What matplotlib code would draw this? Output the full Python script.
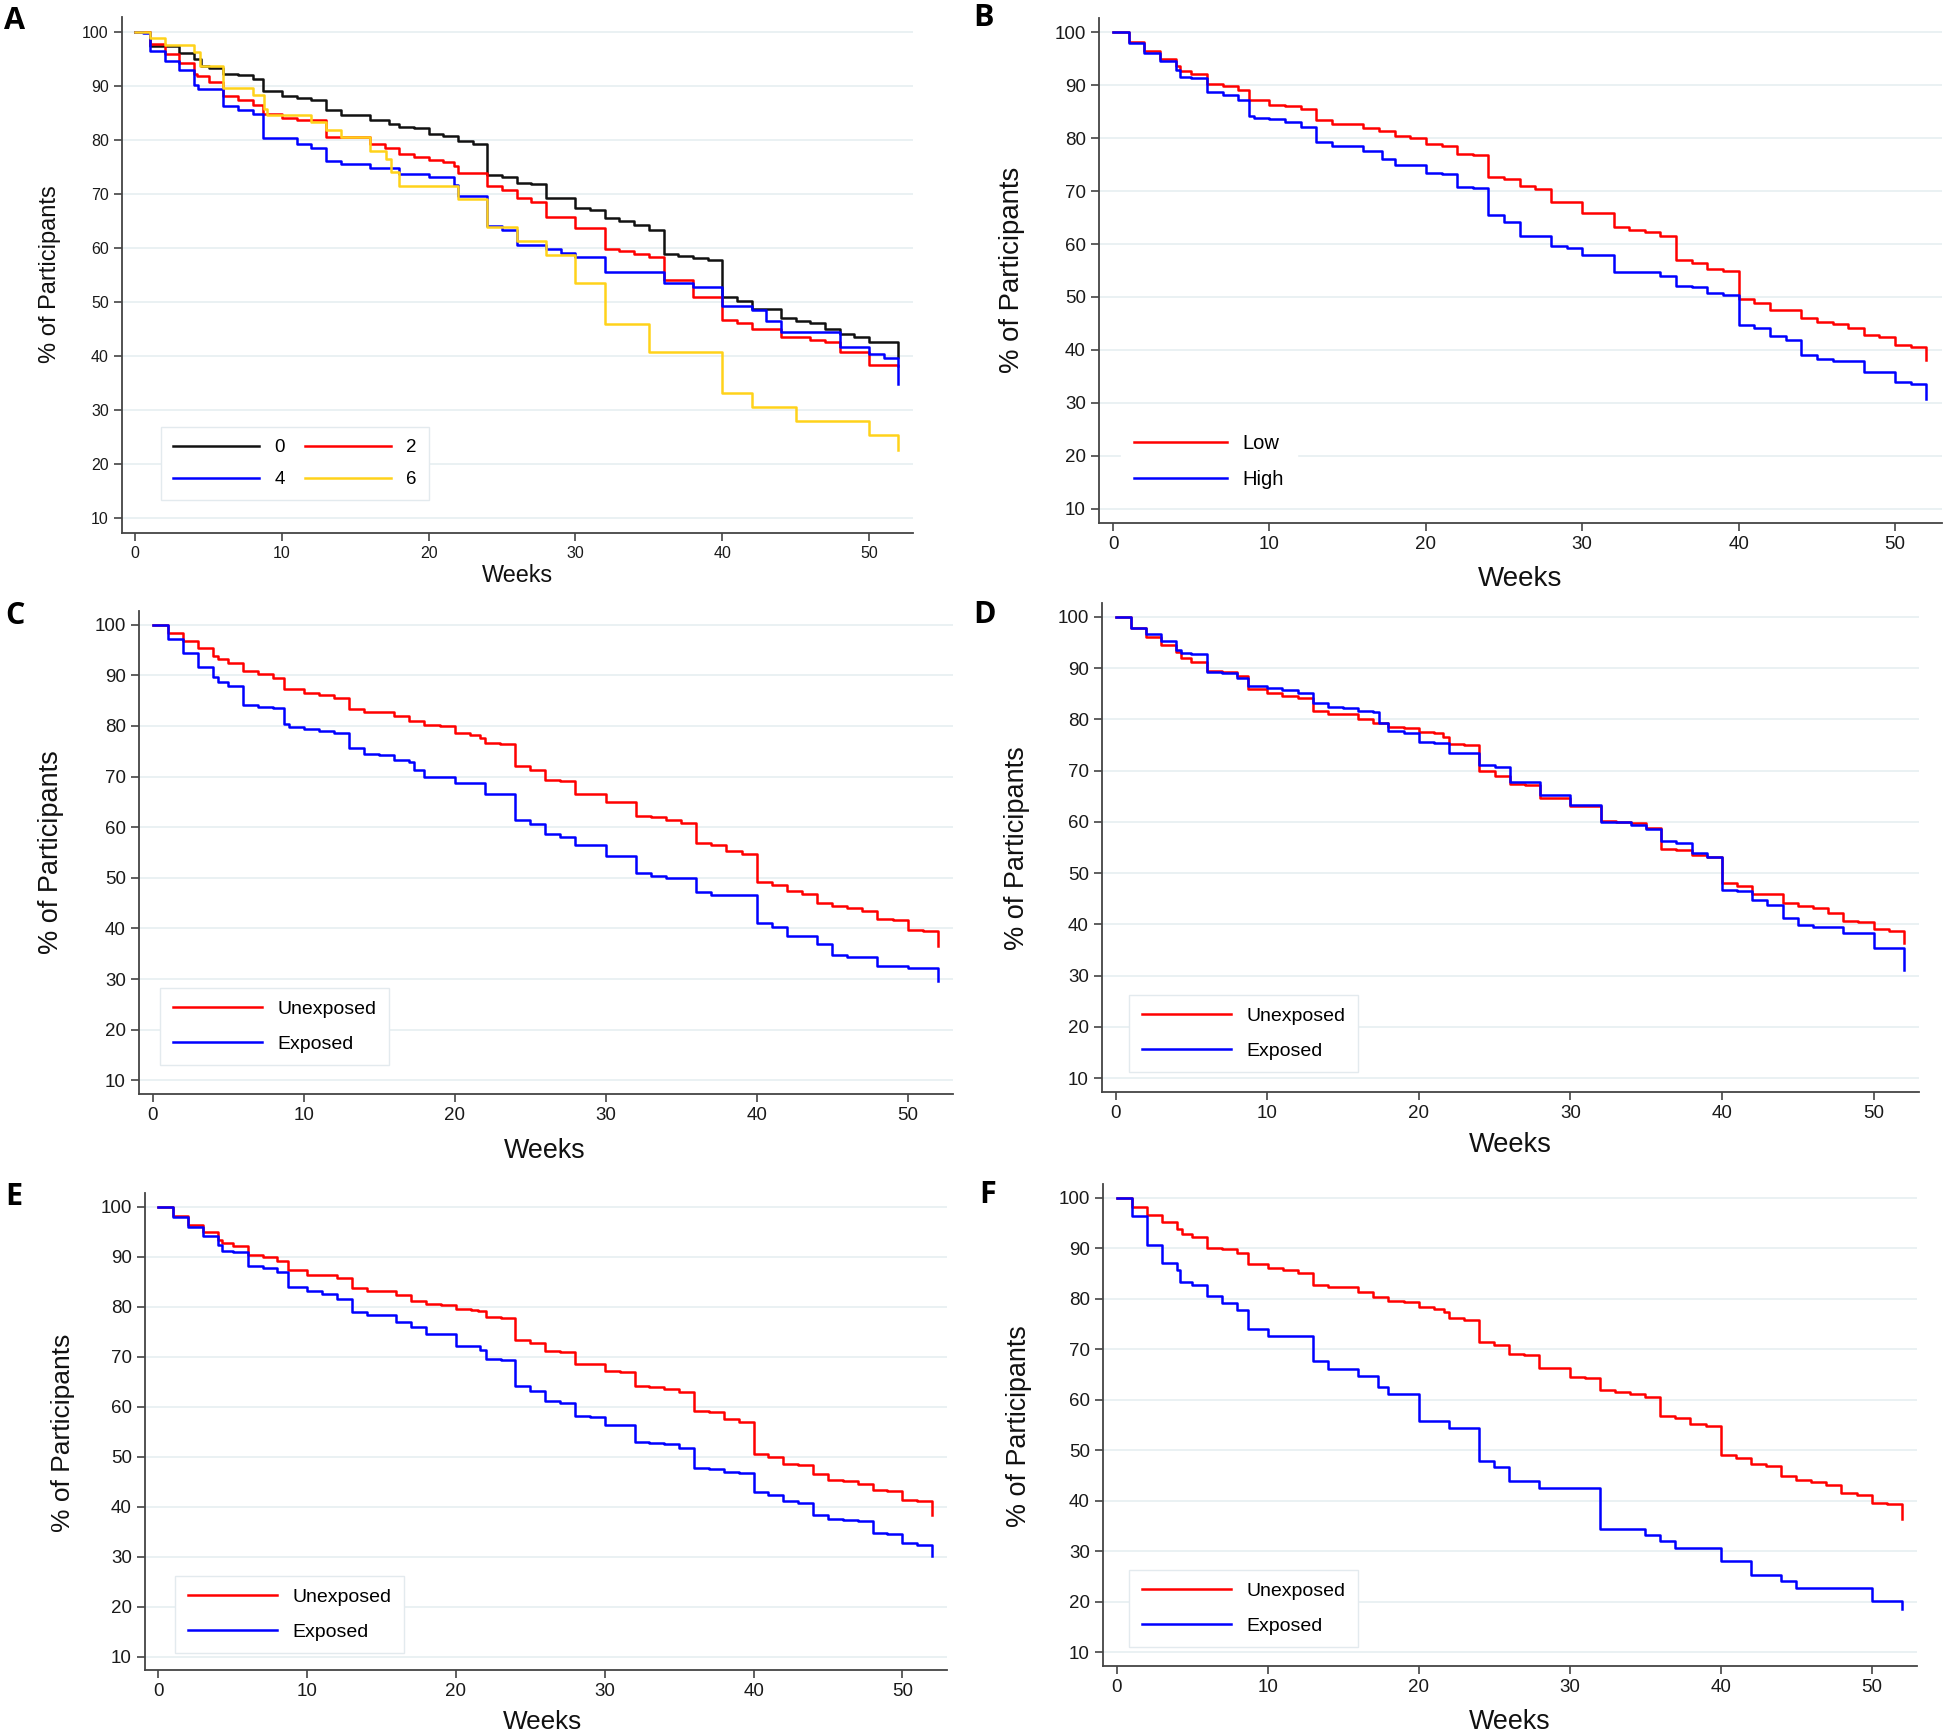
import matplotlib
matplotlib.use("Agg")
import matplotlib.pyplot as plt

plt.rcParams['font.family'] = ['Liberation Sans', 'DejaVu Sans']

# ---------------- data ----------------
week_ticks = [0, 10, 20, 30, 40, 50]
pct_ticks = [10, 20, 30, 40, 50, 60, 70, 80, 90, 100]

# Panel A (groups 0, 2, 4, 6)
a0_t = [0, 1, 3, 4, 4.5, 5, 6, 7, 8, 8.7, 10, 11, 12, 13, 14, 16, 17.3, 18, 19, 20, 21, 22, 23, 24, 25, 26, 27, 28, 30, 31, 32, 33, 34, 35, 36, 37, 38, 39, 40, 41, 42, 44, 45, 46, 47, 48, 49, 50, 52]
a0_s = [100, 97.3, 96.0, 94.9, 93.7, 93.3, 92.1, 92.0, 91.3, 89.1, 88.1, 87.8, 87.3, 85.5, 84.5, 83.6, 83.0, 82.4, 82.1, 81.0, 80.7, 79.7, 79.2, 73.4, 73.1, 72.0, 71.8, 69.3, 67.4, 67.1, 65.6, 64.9, 64.3, 63.3, 58.9, 58.5, 58.1, 57.8, 51.0, 50.2, 48.7, 47.0, 46.5, 46.1, 45.0, 44.1, 43.6, 42.7, 39.8]
a2_t = [0, 1, 2, 3, 4, 4.2, 5, 6, 7, 8, 8.7, 10, 11, 13, 16, 17, 18, 19, 20, 21, 21.7, 22, 24, 25, 26, 27, 28, 30, 32, 33, 34, 35, 36, 38, 40, 41, 42, 44, 46, 47, 48, 50, 52]
a2_s = [100, 97.7, 95.8, 94.2, 92.1, 91.7, 90.6, 88.1, 87.3, 86.4, 84.8, 84.0, 83.6, 80.5, 79.3, 78.4, 77.4, 76.9, 76.2, 75.9, 75.1, 73.9, 71.4, 70.8, 69.3, 68.5, 65.7, 63.7, 59.8, 59.5, 58.8, 58.3, 54.0, 51.0, 46.7, 46.2, 45.0, 43.5, 43.0, 42.7, 40.8, 38.4, 38.2]
a4_t = [0, 0.5, 1, 2, 3, 4, 4.3, 6, 7, 8, 8.7, 11, 12, 13, 14, 16, 18, 20, 21.7, 22, 24, 25, 26, 28, 29, 30, 32, 36, 38, 40, 42, 43, 44, 48, 50, 51, 52]
a4_s = [100, 99.7, 96.5, 94.6, 92.9, 90.2, 89.4, 86.2, 85.5, 84.7, 80.4, 79.2, 78.4, 76.0, 75.6, 74.8, 73.7, 73.1, 71.6, 69.6, 64.0, 63.3, 60.6, 59.8, 59.0, 58.3, 55.6, 53.5, 52.8, 49.3, 48.6, 46.5, 44.5, 41.6, 40.4, 39.6, 34.8]
a6_t = [0, 1, 2, 4, 4.4, 6, 8, 8.8, 9, 12, 13, 14, 16, 17.1, 17.4, 18, 22, 24, 26, 28, 30, 32, 35, 40, 42, 45, 50, 52]
a6_s = [100, 98.8, 97.5, 96.2, 93.7, 89.6, 88.2, 85.6, 84.5, 83.2, 81.8, 80.5, 77.9, 76.5, 74.0, 71.4, 69.0, 63.8, 61.2, 58.7, 53.5, 45.9, 40.8, 33.1, 30.6, 28.0, 25.4, 22.7]

# Panel B (Low / High)
b_low_t = [0, 1, 2, 3, 4, 4.3, 5, 6, 7, 8, 8.7, 10, 11, 12, 13, 14, 16, 17, 18, 19, 20, 21, 22, 23, 24, 25, 26, 27, 28, 30, 31, 32, 33, 34, 35, 36, 37, 38, 39, 40, 41, 42, 44, 45, 46, 47, 48, 49, 50, 51, 52]
b_low_s = [100, 98.1, 96.5, 95.0, 93.6, 92.7, 92.2, 90.2, 89.8, 89.1, 87.3, 86.2, 86.0, 85.5, 83.5, 82.7, 82.0, 81.3, 80.4, 80.1, 78.9, 78.6, 77.1, 76.8, 72.7, 72.2, 70.9, 70.4, 68.0, 65.9, 65.8, 63.2, 62.7, 62.3, 61.6, 56.9, 56.4, 55.3, 55.0, 49.6, 48.9, 47.5, 46.1, 45.2, 44.9, 44.2, 42.8, 42.4, 40.9, 40.5, 38.0]
b_high_t = [0, 1, 2, 3, 4, 4.3, 5, 6, 7, 8, 8.7, 9, 10, 11, 12, 13, 14, 16, 17.2, 18, 20, 21, 22, 23, 24, 25, 26, 28, 29, 30, 32, 35, 36, 37, 38, 39, 40, 41, 42, 43, 44, 45, 46, 48, 50, 51, 52]
b_high_s = [100, 98.0, 96.0, 94.6, 92.9, 91.6, 91.3, 88.7, 88.2, 87.3, 84.1, 83.9, 83.6, 83.1, 82.1, 79.3, 78.6, 77.5, 76.0, 75.0, 73.4, 73.2, 70.8, 70.6, 65.4, 64.1, 61.6, 59.6, 59.2, 58.0, 54.7, 54.0, 52.0, 51.8, 50.8, 50.3, 44.7, 44.2, 42.6, 41.9, 39.1, 38.2, 37.9, 35.9, 33.9, 33.5, 30.7]

# Panel C
c_unexp_t = [0, 1, 2, 3, 4, 4.3, 5, 6, 7, 8, 8.7, 10, 11, 12, 13, 14, 16, 17, 18, 19, 20, 21, 21.7, 22, 23, 24, 25, 26, 27, 28, 29, 30, 32, 33, 34, 35, 36, 37, 38, 39, 40, 41, 42, 43, 44, 45, 46, 47, 48, 49, 50, 51, 52]
c_unexp_s = [100, 98.3, 96.7, 95.4, 93.9, 93.2, 92.5, 90.8, 90.3, 89.4, 87.3, 86.6, 86.2, 85.5, 83.3, 82.7, 81.9, 81.0, 80.2, 80.0, 78.6, 78.3, 77.6, 76.7, 76.4, 72.0, 71.3, 69.4, 69.2, 66.6, 66.5, 65.0, 62.3, 62.0, 61.5, 60.8, 56.8, 56.4, 55.2, 54.8, 49.1, 48.6, 47.3, 46.9, 45.1, 44.4, 44.0, 43.5, 41.8, 41.6, 39.6, 39.4, 36.5]
c_exp_t = [0, 1, 2, 3, 4, 4.3, 5, 6, 7, 8, 8.7, 9, 10, 11, 12, 13, 14, 15, 16, 17, 17.3, 18, 20, 22, 24, 25, 26, 27, 28, 30, 32, 33, 34, 36, 37, 40, 41, 42, 44, 45, 46, 48, 50, 52]
c_exp_s = [100, 97.1, 94.4, 91.6, 89.7, 88.6, 87.9, 84.2, 83.7, 83.5, 80.4, 79.7, 79.3, 78.9, 78.6, 75.6, 74.5, 74.3, 73.2, 72.9, 71.2, 70.0, 68.7, 66.5, 61.5, 60.6, 58.6, 58.1, 56.4, 54.3, 50.9, 50.4, 50.0, 47.1, 46.6, 41.1, 40.3, 38.6, 36.9, 34.7, 34.3, 32.6, 32.1, 29.6]

# Panel D
d_unexp_t = [0, 1, 2, 3, 4, 4.3, 5, 6, 7, 8, 8.7, 10, 11, 12, 13, 14, 16, 17, 18, 19, 20, 21, 21.6, 22, 23, 24, 25, 26, 27, 28, 29, 30, 32, 33, 34, 35, 36, 37, 38, 39, 40, 41, 42, 43, 44, 45, 46, 47, 48, 49, 50, 51, 52]
d_unexp_s = [100, 97.9, 96.1, 94.5, 93.2, 91.9, 91.2, 89.5, 89.3, 88.4, 86.0, 85.1, 84.6, 84.1, 81.7, 81.0, 80.1, 79.3, 78.6, 78.4, 77.5, 77.3, 76.6, 75.2, 74.9, 70.0, 69.0, 67.4, 67.1, 64.7, 64.6, 63.1, 60.2, 60.0, 59.7, 58.9, 54.8, 54.5, 53.5, 53.2, 48.0, 47.5, 46.0, 45.9, 44.2, 43.6, 43.1, 42.3, 40.6, 40.4, 39.1, 38.8, 36.3]
d_exp_t = [0, 1, 2, 3, 4, 4.3, 5, 6, 7, 8, 8.7, 10, 11, 12, 13, 14, 15, 16, 17, 17.4, 18, 19, 20, 21, 22, 24, 25, 26, 28, 30, 32, 34, 35, 36, 37, 38, 39, 40, 41, 42, 43, 44, 45, 46, 48, 50, 52]
d_exp_s = [100, 97.9, 96.6, 95.3, 93.6, 93.0, 92.7, 89.3, 89.1, 88.1, 86.5, 86.2, 85.8, 85.1, 83.2, 82.5, 82.3, 81.6, 81.4, 79.3, 77.7, 77.3, 75.6, 75.4, 73.5, 71.1, 70.8, 67.7, 65.2, 63.3, 60.0, 59.4, 58.7, 56.3, 55.9, 53.9, 53.1, 46.8, 46.5, 44.7, 43.8, 41.3, 39.9, 39.5, 38.4, 35.3, 31.1]

# Panel E
e_unexp_t = [0, 1, 2, 3, 4, 4.3, 5, 6, 7, 8, 8.7, 10, 11, 12, 13, 14, 16, 17, 18, 19, 20, 21, 21.5, 22, 23, 24, 25, 26, 27, 28, 30, 31, 32, 33, 34, 35, 36, 37, 38, 39, 40, 41, 42, 43, 44, 45, 46, 47, 48, 49, 50, 51, 52]
e_unexp_s = [100, 98.2, 96.3, 95.0, 93.4, 92.7, 92.1, 90.4, 89.9, 89.2, 87.4, 86.4, 86.3, 85.8, 83.8, 83.1, 82.3, 81.2, 80.6, 80.4, 79.5, 79.3, 79.2, 77.9, 77.7, 73.3, 72.8, 71.1, 70.9, 68.6, 67.1, 67.0, 64.2, 64.0, 63.5, 62.9, 59.2, 58.9, 57.5, 57.0, 50.5, 50.0, 48.5, 48.3, 46.5, 45.4, 45.1, 44.5, 43.4, 43.2, 41.4, 41.2, 38.3]
e_exp_t = [0, 1, 2, 3, 4, 4.3, 5, 6, 7, 8, 8.7, 10, 11, 12, 13, 14, 16, 17, 18, 20, 21.6, 22, 23, 24, 25, 26, 27, 28, 29, 30, 32, 33, 34, 35, 36, 37, 38, 39, 40, 41, 42, 43, 44, 45, 46, 47, 48, 49, 50, 51, 52]
e_exp_s = [100, 98.0, 96.0, 94.2, 92.3, 91.2, 90.9, 88.1, 87.7, 86.9, 83.9, 83.2, 82.5, 81.6, 79.0, 78.3, 77.0, 75.9, 74.5, 72.2, 71.4, 69.5, 69.4, 64.1, 63.2, 61.1, 60.7, 58.1, 58.0, 56.3, 53.0, 52.8, 52.5, 51.8, 47.8, 47.6, 47.0, 46.8, 43.0, 42.4, 41.1, 40.7, 38.3, 37.6, 37.4, 37.2, 34.7, 34.5, 32.8, 32.4, 30.1]

# Panel F
f_unexp_t = [0, 1, 2, 3, 4, 4.3, 5, 6, 7, 8, 8.7, 10, 11, 12, 13, 14, 16, 17, 18, 19, 20, 21, 21.7, 22, 23, 24, 25, 26, 27, 28, 30, 31, 32, 33, 34, 35, 36, 37, 38, 39, 40, 41, 42, 43, 44, 45, 46, 47, 48, 49, 50, 51, 52]
f_unexp_s = [100, 98.2, 96.5, 95.1, 93.8, 92.9, 92.2, 90.1, 89.8, 89.0, 86.8, 86.1, 85.7, 85.0, 82.8, 82.3, 81.3, 80.3, 79.6, 79.4, 78.3, 78.0, 77.4, 76.1, 75.8, 71.5, 70.8, 69.0, 68.8, 66.3, 64.5, 64.3, 61.9, 61.6, 61.2, 60.5, 56.7, 56.3, 55.2, 54.9, 49.1, 48.4, 47.2, 46.8, 45.0, 44.1, 43.8, 43.2, 41.6, 41.2, 39.6, 39.4, 36.3]
f_exp_t = [0, 1, 2, 3, 4, 4.2, 5, 6, 7, 8, 8.7, 10, 13, 14, 16, 17.3, 18, 20, 22, 24, 25, 26, 28, 32, 35, 36, 37, 40, 42, 44, 45, 50, 52]
f_exp_s = [100, 96.4, 90.6, 87.0, 85.7, 83.4, 82.7, 80.5, 79.1, 77.8, 74.0, 72.6, 67.7, 66.1, 64.6, 62.5, 61.1, 55.8, 54.4, 47.9, 46.6, 43.9, 42.5, 34.5, 33.3, 32.0, 30.7, 28.0, 25.4, 24.1, 22.8, 20.1, 18.5]

RED, BLUE, BLACK, GOLD = '#FF0000', '#0000FF', '#111111', '#FFD21A'

# ---------------- figure ----------------
W, H = 1946, 1732
fig = plt.figure(figsize=(W / 100, H / 100), dpi=100)
fig.patch.set_facecolor('white')


def fx(x):
    return x / W


def fy(y):
    return 1 - y / H


def make_axes(l, r, t, b, tick_size):
    ax = fig.add_axes([fx(l), fy(b), (r - l) / W, (b - t) / H])
    ax.set_xlim(-0.9, 53)
    ax.set_ylim(7.3, 102.7)
    ax.set_xticks(week_ticks)
    ax.set_yticks(pct_ticks)
    ax.grid(axis='y', color='#E8F0F2', lw=1.3)
    ax.set_axisbelow(True)
    for sp in ('top', 'right'):
        ax.spines[sp].set_visible(False)
    for sp in ('left', 'bottom'):
        ax.spines[sp].set_color('#444444')
        ax.spines[sp].set_linewidth(1.3)
    ax.tick_params(direction='out', length=6, width=1.2, color='#444444',
                   labelsize=tick_size, pad=3.5, labelcolor='#1a1a1a')
    return ax


def add_legend(ax, handles, labels, left, top, fs, ncol=1, edge='#E3EAEE',
               ls=0.86, colsp=0.9):
    leg = ax.legend(handles, labels, loc='upper left',
                    bbox_to_anchor=(fx(left), fy(top)), bbox_transform=fig.transFigure,
                    borderaxespad=0, ncol=ncol, fontsize=fs, handlelength=4.6,
                    handletextpad=0.8, labelspacing=ls, borderpad=0.65,
                    columnspacing=colsp, fancybox=False, framealpha=1,
                    edgecolor=edge, facecolor='white')
    leg.get_frame().set_linewidth(1.0)
    return leg


LW = 1.8

# Panel A
axA = make_axes(122, 913, 17, 533, 11.5)
hA0, = axA.step(a0_t, a0_s, where='post', color=BLACK, lw=LW)
hA2, = axA.step(a2_t, a2_s, where='post', color=RED, lw=LW)
hA4, = axA.step(a4_t, a4_s, where='post', color=BLUE, lw=LW)
hA6, = axA.step(a6_t, a6_s, where='post', color=GOLD, lw=LW)
add_legend(axA, [hA0, hA4, hA2, hA6], ['0', '4', '2', '6'], 161, 427, 13.5,
           ncol=2, ls=0.78, colsp=1.05)

# Panel B
axB = make_axes(1099, 1942, 18, 523, 13.5)
hBl, = axB.step(b_low_t, b_low_s, where='post', color=RED, lw=LW)
hBh, = axB.step(b_high_t, b_high_s, where='post', color=BLUE, lw=LW)
add_legend(axB, [hBl, hBh], ['Low', 'High'], 1121, 421, 14.5, edge='white')

# Panel C
axC = make_axes(139, 953, 611, 1094, 13.5)
hCu, = axC.step(c_unexp_t, c_unexp_s, where='post', color=RED, lw=LW)
hCe, = axC.step(c_exp_t, c_exp_s, where='post', color=BLUE, lw=LW)
add_legend(axC, [hCu, hCe], ['Unexposed', 'Exposed'], 160, 988, 14)

# Panel D
axD = make_axes(1102, 1919, 603, 1092, 13.5)
hDu, = axD.step(d_unexp_t, d_unexp_s, where='post', color=RED, lw=LW)
hDe, = axD.step(d_exp_t, d_exp_s, where='post', color=BLUE, lw=LW)
add_legend(axD, [hDu, hDe], ['Unexposed', 'Exposed'], 1129, 995, 14)

# Panel E
axE = make_axes(145, 947, 1193, 1670, 13.5)
hEu, = axE.step(e_unexp_t, e_unexp_s, where='post', color=RED, lw=LW)
hEe, = axE.step(e_exp_t, e_exp_s, where='post', color=BLUE, lw=LW)
add_legend(axE, [hEu, hEe], ['Unexposed', 'Exposed'], 175, 1576, 14)

# Panel F
axF = make_axes(1103, 1917, 1184, 1666, 13.5)
hFu, = axF.step(f_unexp_t, f_unexp_s, where='post', color=RED, lw=LW)
hFe, = axF.step(f_exp_t, f_exp_s, where='post', color=BLUE, lw=LW)
add_legend(axF, [hFu, hFe], ['Unexposed', 'Exposed'], 1129, 1570, 14)

# axis titles
ylabels = [(50, 274, 17), (1012, 270, 19.8), (51, 852, 19.5),
           (1017, 848, 19.5), (63, 1433, 19), (1019, 1426, 19.4)]
for x, y, fs in ylabels:
    fig.text(fx(x), fy(y), '% of Participants', rotation=90, ha='center',
             va='center', fontsize=fs, color='#111111')

xlabels = [(517, 582, 16.8), (1520, 586, 20), (545, 1158, 19.4),
           (1510, 1152, 19.6), (543, 1729, 18.8), (1510, 1729, 19.4)]
for x, y, fs in xlabels:
    fig.text(fx(x), fy(y), 'Weeks', ha='center', va='baseline',
             fontsize=fs, color='#111111')

# panel letters
letters = [('A', 15, 21), ('B', 984, 18), ('C', 15, 616),
           ('D', 985, 615), ('E', 14, 1197), ('F', 988, 1195)]
for ch, x, y in letters:
    fig.text(fx(x), fy(y), ch, ha='center', va='center', fontsize=22,
             fontweight='bold', family=['Open Sans', 'DejaVu Sans'], color='black')

fig.savefig('out.png', dpi=100, facecolor='white')
